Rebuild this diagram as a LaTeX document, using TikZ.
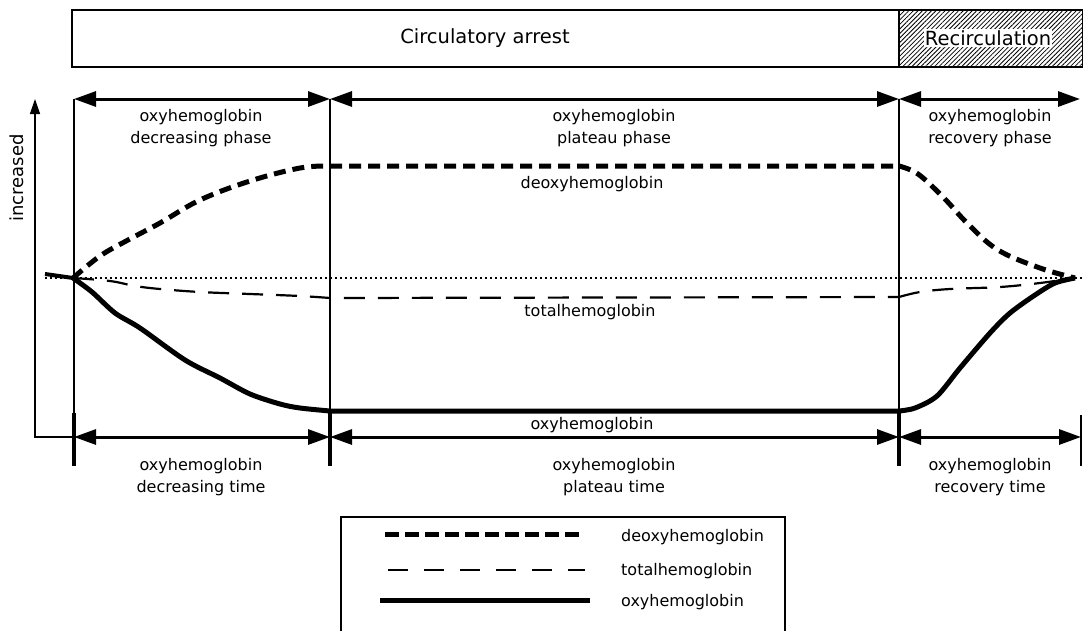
\documentclass[tikz,border=0pt]{standalone}
\usepackage{fontspec}
\setmainfont{DejaVu Sans}
\usetikzlibrary{arrows.meta,patterns.meta}
\begin{document}
\begin{tikzpicture}[x=1pt,y=-1pt,
  lbl/.style={font=\fontsize{16}{22}\selectfont, align=center, inner sep=0pt},
  ttl/.style={font=\fontsize{19.5}{24}\selectfont, inner sep=1pt},
  span/.style={line width=3pt, {Triangle[length=22pt,width=15pt]}-{Triangle[length=22pt,width=15pt]}},
  vline/.style={line width=1.4pt},
  tickline/.style={line width=3.5pt},
  deoxy/.style={line width=5pt, dash pattern=on 12pt off 7pt},
  total/.style={line width=2.2pt, dash pattern=on 21pt off 13pt},
  oxy/.style={line width=5pt, line join=round},
  base/.style={line width=2pt, dash pattern=on 1.8pt off 3.2pt},
]
\useasboundingbox (0,0) rectangle (1083,630);

% top bar
\fill[pattern={Lines[angle=45,distance=3.2pt,line width=0.8pt]}] (899,10) rectangle (1083,67);
\draw[line width=2.6pt] (72,10) rectangle (1083,67);
\draw[line width=2.6pt] (899,10) -- (899,67);
\node[ttl] (circ) at (485,38) {Circulatory arrest};
\node[ttl, fill=white] (recirc) at (988,38) {Recirculation};

% coordinates
\coordinate (t0) at (74,99);
\coordinate (t1) at (330,99);
\coordinate (t2) at (899,99);
\coordinate (t3) at (1080,99);
\coordinate (b0) at (74,437);
\coordinate (b1) at (330,437);
\coordinate (b2) at (899,437);
\coordinate (b3) at (1081,437);
\coordinate (origin) at (35,437);
\coordinate (ytip) at (35,99);

% vertical lines
\draw[vline] (t0) -- (74,413);
\draw[vline] (t1) -- (330,410);
\draw[vline] (t2) -- (899,410);
\draw[tickline] (74,413) -- (74,466);
\draw[tickline] (330,410) -- (330,466);
\draw[tickline] (899,410) -- (899,466);
\draw[line width=2pt] (1081,415) -- (1081,466);

% y axis
\draw[vline, -{Triangle[length=15pt,width=10pt]}] (b0) -- (origin) -- (ytip);
\node[lbl, font=\fontsize{18}{22}\selectfont, rotate=90] (incr) at (17,178) {increased};

% span arrows
\draw[span] (t0) -- (t1);
\draw[span] (t1) -- (t2);
\draw[span] (t2) -- (t3);
\draw[span] (b0) -- (b1);
\draw[span] (b1) -- (b2);
\draw[span] (b2) -- (b3);

% labels
\node[lbl] (ph1) at (201,128) {oxyhemoglobin\\decreasing phase};
\node[lbl] (ph2) at (614,128) {oxyhemoglobin\\plateau phase};
\node[lbl] (ph3) at (990,128) {oxyhemoglobin\\recovery phase};
\node[lbl] (tm1) at (201,477) {oxyhemoglobin\\decreasing time};
\node[lbl] (tm2) at (614,477) {oxyhemoglobin\\plateau time};
\node[lbl] (tm3) at (990,477) {oxyhemoglobin\\recovery time};
\node[lbl] (ldeoxy) at (592,184) {deoxyhemoglobin};
\node[lbl] (ltotal) at (590,312) {totalhemoglobin};
\node[lbl] (loxy) at (592,425) {oxyhemoglobin};

% baseline
\draw[base] (45,278) -- (1083,278);
\draw[line width=4pt] (45,274) -- (73,278);

% curves
\draw[deoxy] plot[smooth, tension=0.6] coordinates {(73,278) (100,256) (128,240) (160,223) (200,200) (250,181) (300,168) (330,166)}
  -- (899,166)
  plot[smooth, tension=0.6] coordinates {(899,166) (918,174) (943,197) (968,224) (998,250) (1040,268) (1075,278)};
\draw[total] plot[smooth, tension=0.6] coordinates {(73,278) (110,281) (135,286) (160,289) (200,292) (250,294) (300,296) (330,298)}
  -- (899,297)
  plot[smooth, tension=0.6] coordinates {(899,297) (920,292) (950,289) (1000,287) (1040,283) (1075,278)};
\draw[oxy] plot[smooth, tension=0.5] coordinates {(73,278) (92,292) (115,313) (140,328) (185,360) (220,378) (250,394) (280,404) (300,408) (330,411)}
  -- (899,411)
  plot[smooth, tension=0.5] coordinates {(899,411) (915,408) (937,396) (960,368) (990,333) (1010,313) (1035,295) (1055,283) (1075,278)};

% legend
\draw[vline] (341,631) -- (341,517) -- (785,517) -- (785,631);
\draw[deoxy, dash pattern=on 14pt off 6pt] (385,534) -- (580,534);
\draw[total, dash pattern=on 20pt off 16pt] (388,570) -- (585,570);
\draw[oxy, line join=miter] (380,600) -- (590,600);
\node[lbl, anchor=west] (leg1) at (621,537) {deoxyhemoglobin};
\node[lbl, anchor=west] (leg2) at (621,571) {totalhemoglobin};
\node[lbl, anchor=west] (leg3) at (621,602) {oxyhemoglobin};
\end{tikzpicture}
\end{document}
